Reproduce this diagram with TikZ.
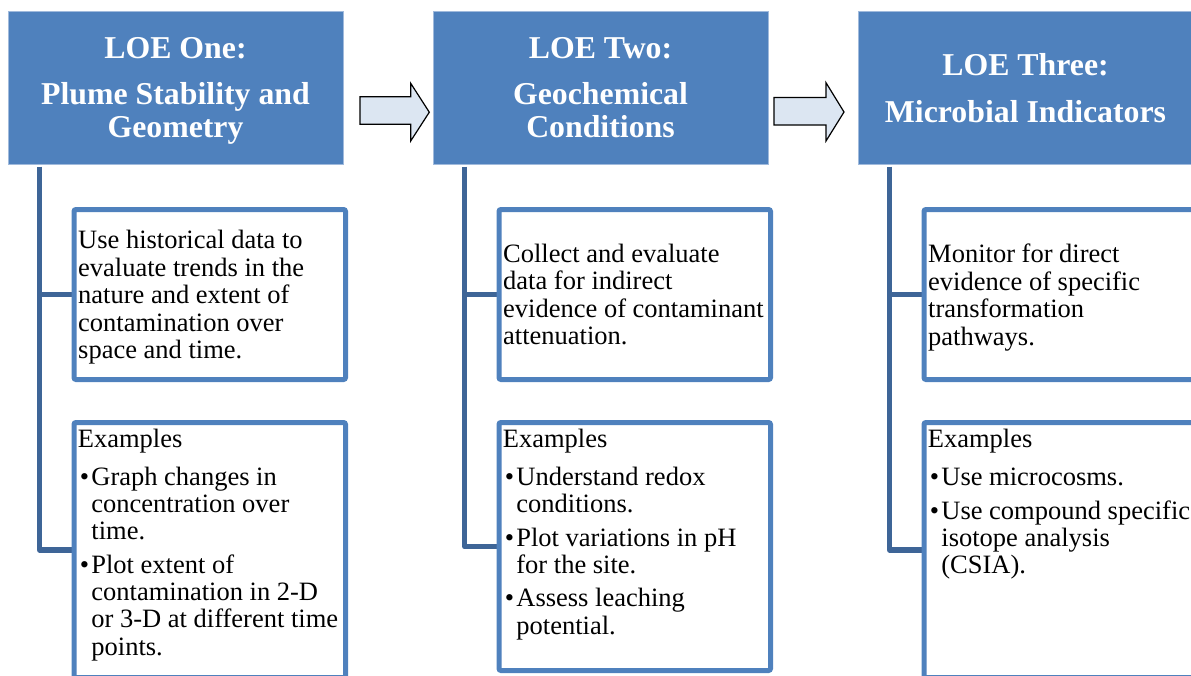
\documentclass[tikz,border=0pt]{standalone}
\usepackage{fontspec}
\setmainfont{Liberation Serif}
\usetikzlibrary{backgrounds}
\definecolor{hdr}{RGB}{79,129,189}
\definecolor{hdredge}{RGB}{160,186,220}
\definecolor{connc}{RGB}{62,101,151}
\definecolor{arrfill}{RGB}{220,230,242}
\newcommand{\myBul}{\makebox[13.5pt][l]{\hspace{2pt}•}}
\newcommand{\myInd}{\hspace*{13.5pt}}
\tikzset{
  hdrbox/.style={draw=hdredge, line width=1pt, fill=hdr, minimum width=335pt,
    minimum height=153pt, inner sep=0pt, outer sep=0pt, text=white,
    font=\bfseries\fontsize{31.8}{33}\selectfont, align=center, text depth=0pt},
  txtbox/.style={draw=hdr, line width=5pt, fill=white, rounded corners=2pt,
    minimum width=271.5pt, inner sep=0pt, outer sep=0pt},
  bodytext/.style={font=\fontsize{26.5}{27.5}\selectfont, align=left,
    inner sep=0pt, anchor=west, text depth=0pt},
  extext/.style={font=\fontsize{26.5}{27.2}\selectfont, align=left,
    inner sep=0pt, anchor=north west},
  connline/.style={draw=connc, line width=5.5pt, line join=round},
  blockarrow/.style={draw=black, line width=1.2pt, fill=arrfill, line join=miter},
}
\begin{document}
\begin{tikzpicture}[x=1pt,y=-1pt]
\useasboundingbox (0,0) rectangle (1191,675);

% headers
\node[hdrbox] (h1) at (175.5,87.5) {LOE One:\\[13pt]Plume Stability and\\Geometry};
\node[hdrbox] (h2) at (600.5,87.5) {LOE Two:\\[13pt]Geochemical\\Conditions};
\node[hdrbox] (h3) at (1025.5,87.5) {LOE Three:\\[14pt]Microbial Indicators};

% block arrows
\draw[blockarrow] (360,96.7) -- (410.7,96.7) -- (410.7,83.3) -- (429.3,112.2)
  -- (410.7,141) -- (410.7,124.3) -- (360,124.3) -- cycle;
\draw[blockarrow] (774,97.5) -- (826,97.5) -- (826,82.7) -- (844,112)
  -- (826,141) -- (826,125) -- (774,125) -- cycle;

% text boxes
\node[txtbox, minimum height=170pt] (b1) at (209.75,294.5) {};
\node[txtbox, minimum height=170pt] (b2) at (634.75,294.5) {};
\node[txtbox, minimum height=170pt] (b3) at (1059.75,294.5) {};

\node[bodytext] (t1) at ([xshift=4pt]b1.west) {Use historical data to\\evaluate trends in the\\nature and extent of\\contamination over\\space and time.};
\node[bodytext] (t2) at ([xshift=4pt]b2.west) {Collect and evaluate\\data for indirect\\evidence of contaminant\\attenuation.};
\node[bodytext] (t3) at ([xshift=4pt]b3.west) {Monitor for direct\\evidence of specific\\transformation\\pathways.};

% examples boxes
\node[txtbox, minimum height=255pt] (e1) at (209.75,550) {};
\node[txtbox, minimum height=248pt] (e2) at (634.75,546.5) {};
\node[txtbox, minimum height=255pt] (e3) at (1059.75,550) {};

\node[extext] (x1) at ([xshift=3.7pt,yshift=-6.3pt]e1.north west) {Examples\\[11pt]
\myBul Graph changes in\\\myInd concentration over\\\myInd time.\\[6.3pt]
\myBul Plot extent of\\\myInd contamination in 2-D\\\myInd or 3-D at different time\\\myInd points.};
\node[extext] (x2) at ([xshift=3.7pt,yshift=-6.3pt]e2.north west) {Examples\\[11pt]
\myBul Understand redox\\\myInd conditions.\\[6.3pt]
\myBul Plot variations in pH\\\myInd for the site.\\[6.3pt]
\myBul Assess leaching\\\myInd potential.};
\node[extext] (x3) at ([xshift=3.7pt,yshift=-6.3pt]e3.north west) {Examples\\[11pt]
\myBul Use microcosms.\\[6.3pt]
\myBul Use compound specific\\\myInd isotope analysis\\\myInd (CSIA).};

% connectors
\begin{scope}[on background layer]
\coordinate (v1) at (39.7,166.5);
\coordinate (v2) at (464.7,166.5);
\coordinate (v3) at (889.7,166.5);
\draw[connline] (v1) |- (e1.west);
\draw[connline] (v1 |- b1.west) -- (b1.west);
\draw[connline] (v2) |- (e2.west);
\draw[connline] (v2 |- b2.west) -- (b2.west);
\draw[connline] (v3) |- (e3.west);
\draw[connline] (v3 |- b3.west) -- (b3.west);
\end{scope}
\end{tikzpicture}
\end{document}
